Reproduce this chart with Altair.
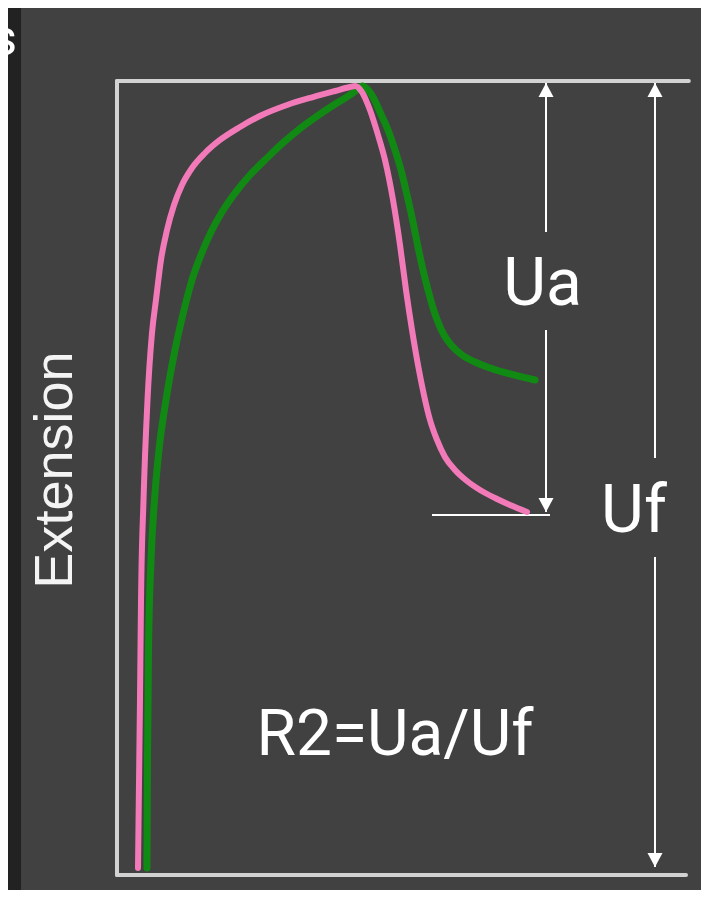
import altair as alt
import pandas as pd

# Frame spans 0..100 on both axes (arbitrary time / extension units)
pink_time = [3.69, 4.04, 4.22, 4.66, 5.36, 6.15, 6.85, 7.73, 8.79, 10.02,
             11.42, 13.18, 15.47, 18.10, 21.62, 25.48, 29.88, 34.45, 38.31, 40.95,
             41.83, 43.06, 44.46, 45.87, 47.10, 48.51, 49.74, 50.79, 51.85, 52.90,
             53.95, 55.01, 56.24, 57.64, 59.40, 61.51, 63.80, 66.43, 69.07, 72.06]
pink_ext = [0.88, 22.04, 34.63, 47.23, 59.82, 68.26, 72.42, 77.46, 81.23, 84.38,
            86.90, 89.04, 90.93, 92.57, 94.21, 95.72, 96.98, 97.98, 98.74, 99.24,
            99.37, 98.61, 96.35, 93.20, 90.05, 85.01, 79.35, 73.68, 68.64, 64.23,
            60.45, 57.30, 54.79, 52.64, 51.01, 49.62, 48.49, 47.48, 46.60, 45.72]

green_time = [5.27, 5.36, 5.54, 5.98, 6.59, 7.38, 8.61, 10.19, 11.78, 13.18,
              14.76, 16.52, 18.45, 20.74, 23.37, 26.36, 29.35, 32.51, 35.68, 38.66,
              40.95, 42.36, 43.06, 44.11, 44.99, 46.22, 47.63, 48.86, 49.91, 50.97,
              52.02, 52.90, 53.78, 54.66, 55.54, 56.41, 57.47, 58.88, 60.63, 62.92,
              65.55, 69.07, 73.46]
green_ext = [0.88, 14.48, 28.34, 39.67, 47.23, 53.53, 59.82, 66.12, 71.16, 74.94,
             78.09, 80.98, 83.50, 85.89, 88.16, 90.30, 92.32, 94.21, 95.84, 97.23,
             98.24, 98.99, 99.37, 98.87, 97.98, 96.10, 93.83, 91.31, 88.79, 85.64,
             82.24, 79.09, 76.20, 73.68, 71.41, 69.65, 68.01, 66.62, 65.49, 64.61,
             63.85, 63.10, 62.34]

# frame lines
frame_x = [0, 0, 0]
frame_x2 = [0, 100.5, 100]
frame_y = [0, 100, 0]
frame_y2 = [100, 100, 0]

# measurement arrows (Ua, Uf) and reference line
seg_x = [75.40, 75.40, 94.55, 94.55, 55.36]
seg_x2 = [75.40, 75.40, 94.55, 94.55, 76.10]
seg_y = [99.75, 68.64, 99.75, 40.05, 45.34]
seg_y2 = [80.98, 45.72, 52.52, 1.01, 45.34]

head_x = [75.40, 94.55, 75.40, 94.55]
head_y = [99.75, 99.75, 45.72, 1.01]
head_dir = ["up", "up", "down", "down"]

labels = ["Ua", "Uf", "R2=Ua/Uf"]
label_x = [74.78, 90.86, 48.86]
label_y = [71.79, 43.20, 15.11]

BG = "#414141"
FRAME = "#d2d2d2"
PINK = "#f27ab9"
GREEN = "#118a14"

X = alt.Scale(domain=[0, 100], nice=False, zero=False)
Y = alt.Scale(domain=[0, 100], nice=False, zero=False)

def xq(f):
    return alt.X(f, type="quantitative", scale=X, axis=None)

def yq(f):
    return alt.Y(f, type="quantitative", scale=Y, axis=None)

strip = alt.Chart(pd.DataFrame({"x": [-30], "x2": [-16.87], "y": [-5], "y2": [115]})).mark_rect(
    color="#222222").encode(x=xq("x"), x2="x2", y=yq("y"), y2="y2")

frame = alt.Chart(pd.DataFrame({"x": frame_x, "x2": frame_x2, "y": frame_y, "y2": frame_y2})).mark_rule(
    color=FRAME, strokeWidth=4, strokeCap="round").encode(x=xq("x"), x2="x2", y=yq("y"), y2="y2")

segs = alt.Chart(pd.DataFrame({"x": seg_x, "x2": seg_x2, "y": seg_y, "y2": seg_y2})).mark_rule(
    color="#ffffff", strokeWidth=2).encode(x=xq("x"), x2="x2", y=yq("y"), y2="y2")

heads_df = pd.DataFrame({"x": head_x, "y": head_y, "d": head_dir})
head_up = alt.Chart(heads_df).transform_filter(alt.datum.d == "up").mark_point(
    shape="M0,0L-1,1.87L1,1.87Z", size=225, filled=True, color="#ffffff", opacity=1, strokeWidth=0
).encode(x=xq("x"), y=yq("y"))
head_down = alt.Chart(heads_df).transform_filter(alt.datum.d == "down").mark_point(
    shape="M0,0L-1,-1.87L1,-1.87Z", size=225, filled=True, color="#ffffff", opacity=1, strokeWidth=0
).encode(x=xq("x"), y=yq("y"))

green = alt.Chart(pd.DataFrame({"t": green_time, "e": green_ext, "i": range(len(green_time))})).mark_line(
    color=GREEN, strokeWidth=7, interpolate="monotone", strokeCap="round", strokeJoin="round"
).encode(x=xq("t"), y=yq("e"), order="i:Q")

pink = alt.Chart(pd.DataFrame({"t": pink_time, "e": pink_ext, "i": range(len(pink_time))})).mark_line(
    color=PINK, strokeWidth=6, interpolate="monotone", strokeCap="round", strokeJoin="round"
).encode(x=xq("t"), y=yq("e"), order="i:Q")

texts_df = pd.DataFrame({"x": label_x, "y": label_y, "label": labels})
big_text = alt.Chart(texts_df).transform_filter(alt.datum.label != "R2=Ua/Uf").mark_text(
    font="Roboto", fontSize=66, color="#ffffff", align="center", baseline="alphabetic"
).encode(x=xq("x"), y=yq("y"), text="label:N")
ratio_text = alt.Chart(texts_df).transform_filter(alt.datum.label == "R2=Ua/Uf").mark_text(
    font="Roboto", fontSize=64, color="#ffffff", align="center", baseline="alphabetic"
).encode(x=xq("x"), y=yq("y"), text="label:N")

ytitle = alt.Chart(pd.DataFrame({"x": [-7.91], "y": [51.0], "label": ["Extension"]})).mark_text(
    font="Liberation Sans", fontSize=54, color="#f4f4f4", align="center", baseline="alphabetic", angle=270
).encode(x=xq("x"), y=yq("y"), text="label:N")

corner = alt.Chart(pd.DataFrame({"x": [-17.57], "y": [103.27], "label": ["s"]})).mark_text(
    font="Roboto", fontSize=50, color="#ffffff", align="right", baseline="alphabetic"
).encode(x=xq("x"), y=yq("y"), text="label:N")

chart = alt.layer(
    strip, frame, segs, head_up, head_down, green, pink, big_text, ratio_text, ytitle, corner
).properties(
    width=569, height=794,
    padding={"left": 109, "top": 73, "right": 15, "bottom": 15},
    autosize=alt.AutoSizeParams(type="none"),
    background=BG,
).configure_view(stroke=None)

chart.save("out.html", embed_options={"renderer": "svg", "actions": False})
